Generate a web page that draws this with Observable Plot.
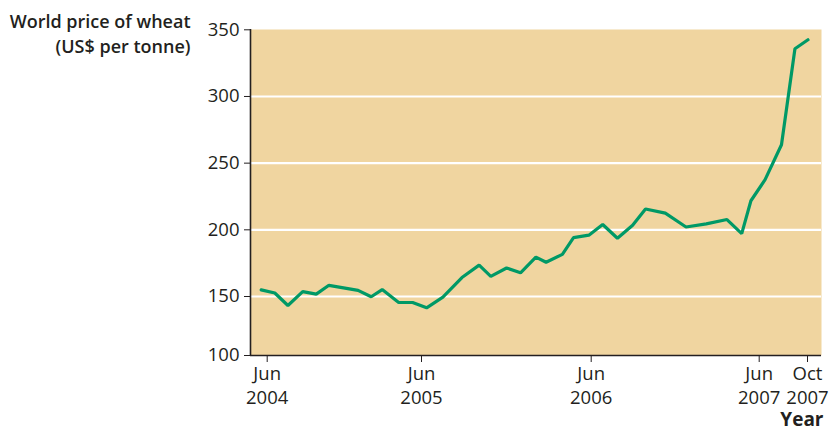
<!DOCTYPE html>
<html>
<head>
<meta charset="utf-8">
<script src="https://cdn.jsdelivr.net/npm/d3@7"></script>
<script src="https://cdn.jsdelivr.net/npm/@observablehq/plot@0.6"></script>
<style>
  html, body { margin: 0; padding: 0; background: #ffffff; }
</style>
</head>
<body>
<div id="chart"></div>
<script>
// ---- data ----
const dates = [
  "2004-05-18","2004-06-19","2004-07-20","2004-08-24","2004-09-25","2004-10-25",
  "2005-01-02","2005-02-02","2005-02-28","2005-04-08","2005-05-11","2005-06-12",
  "2005-07-17","2005-08-27","2005-10-03","2005-10-28","2005-12-01","2005-12-31",
  "2006-02-02","2006-02-24","2006-03-31","2006-04-24","2006-05-27","2006-06-26",
  "2006-07-28","2006-08-30","2006-09-27","2006-11-09","2006-12-24","2007-02-06",
  "2007-03-23","2007-04-24","2007-05-14","2007-06-15","2007-07-24","2007-08-25",
  "2007-09-25"
];
const prices = [
  155.0, 152.6, 142.4, 153.6, 151.8, 158.4,
  154.6, 149.8, 155.2, 144.9, 144.9, 140.4,
  149.4, 164.2, 173.5, 165.1, 171.4, 167.8,
  179.5, 175.7, 181.6, 194.2, 196.0, 204.0,
  193.7, 203.4, 215.6, 212.5, 202.1, 204.5,
  207.7, 197.2, 221.8, 237.6, 263.8, 335.8,
  342.5
];
const yTicks = [100, 150, 200, 250, 300, 350];
const gridValues = [150, 200, 250, 300];
const junTickDates = ["2004-06-01", "2005-06-01", "2006-06-01", "2007-06-01"];
const junTickLabels = ["Jun\n2004", "Jun\n2005", "Jun\n2006", "Jun\n2007"];
const octTickDates = ["2007-10-01"];
const octTickLabels = ["Oct\n2007"];
const xDomainBreaks = ["2004-04-23", "2004-06-01", "2005-06-01", "2006-06-01", "2007-06-01", "2007-10-01", "2007-10-27"];
const titleText = "World price of wheat\n(US$ per tonne)";
const xLabelText = "Year";

// ---- build table ----
const table = dates.map((d, i) => ({date: new Date(d), price: prices[i]}));
const junTicks = junTickDates.map(d => new Date(d));
const octTicks = octTickDates.map(d => new Date(d));
const xDomain = xDomainBreaks.map(d => new Date(d));

const W = 829, H = 430;
const mLeft = 250, mRight = 8, mTop = 29, mBottom = 75;
const ink = "#231f20";
const tickFont = 18.5;

const chart = Plot.plot({
  width: W,
  height: H,
  marginLeft: mLeft,
  marginRight: mRight,
  marginTop: mTop,
  marginBottom: mBottom,
  style: {fontFamily: "'Open Sans', sans-serif", fontSize: tickFont + "px", color: ink, background: "#ffffff"},
  x: {type: "utc", domain: xDomain, range: [250, 266.7, 421, 590.7, 758.7, 810, 821]},
  y: {type: "linear", domain: [100, 150, 350], range: [355, 296, 29.3]},
  marks: [
    Plot.frame({fill: "#f0d5a0", stroke: null}),
    Plot.ruleY(gridValues, {stroke: "#ffffff", strokeWidth: 2.2}),
    Plot.line(table, {x: "date", y: "price", stroke: "#009966", strokeWidth: 3.2, strokeLinejoin: "miter"}),
    Plot.ruleX([xDomain[0]], {stroke: ink, strokeWidth: 1.6}),
    Plot.ruleY([100], {stroke: ink, strokeWidth: 1.6}),
    Plot.axisY({ticks: yTicks, tickSize: 6, tickPadding: 5, label: null, tickFormat: d => String(d), fontSize: tickFont}),
    Plot.axisX({ticks: junTicks, tickSize: 7, tickPadding: 1, label: null, lineHeight: 1.28, fontSize: tickFont,
      tickFormat: (d, i) => junTickLabels[i]}),
    Plot.axisX({ticks: octTicks, tickSize: 7, tickPadding: 1, label: null, lineHeight: 1.28, fontSize: tickFont,
      tickFormat: (d, i) => octTickLabels[i], dx: -3}),
    Plot.text([titleText], {frameAnchor: "top-left", textAnchor: "end", lineAnchor: "top",
      dx: -60, dy: -20, fontWeight: 600, fontSize: 18, lineHeight: 1.42, letterSpacing: "-0.8px", fill: ink}),
    Plot.text([xLabelText], {frameAnchor: "bottom-right", textAnchor: "end", lineAnchor: "middle",
      dx: 2, dy: 64, fontWeight: 700, fontSize: 19, letterSpacing: "-0.8px", fill: ink})
  ]
});
document.getElementById("chart").appendChild(chart);
</script>
</body>
</html>
